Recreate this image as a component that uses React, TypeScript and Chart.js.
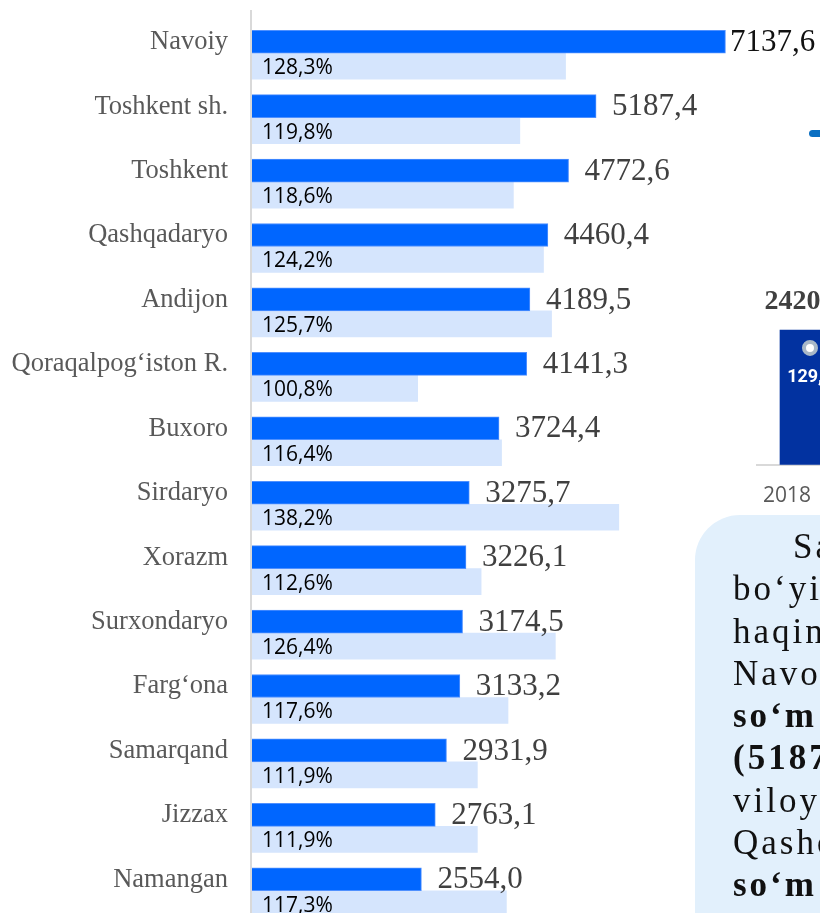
import React, { useEffect, useRef } from 'react';
import { Chart, registerables } from 'chart.js';

Chart.register(...registerables);

// ---- data ----
const regions = [
  'Navoiy',
  'Toshkent sh.',
  'Toshkent',
  'Qashqadaryo',
  'Andijon',
  'Qoraqalpog‘iston R.',
  'Buxoro',
  'Sirdaryo',
  'Xorazm',
  'Surxondaryo',
  'Farg‘ona',
  'Samarqand',
  'Jizzax',
  'Namangan',
];
const volumes = [7137.6, 5187.4, 4772.6, 4460.4, 4189.5, 4141.3, 3724.4, 3275.7, 3226.1, 3174.5, 3133.2, 2931.9, 2763.1, 2554.0];
const growth = [128.3, 119.8, 118.6, 124.2, 125.7, 100.8, 116.4, 138.2, 112.6, 126.4, 117.6, 111.9, 111.9, 117.3];

const sideYears = ['2018'];
const sideVolume = [2420.0];
const sideGrowth = [129.0];

const boxLines = [
  { text: 'Sanoat', bold: false, indent: true },
  { text: 'bo‘yicha', bold: false, indent: false },
  { text: 'haqin', bold: false, indent: false },
  { text: 'Navoiy', bold: false, indent: false },
  { text: 'so‘m', bold: true, indent: false },
  { text: '(5187,4', bold: true, indent: false },
  { text: 'viloyatida', bold: false, indent: false },
  { text: 'Qashqadaryo', bold: false, indent: false },
  { text: 'so‘m', bold: true, indent: false },
];

const fmt = (v: number) => v.toFixed(1).replace('.', ',');

const mainLabels = {
  id: 'mainLabels',
  afterDatasetsDraw(chart: any) {
    const ctx = chart.ctx;
    const xs = chart.scales.x;
    const m0 = chart.getDatasetMeta(0);
    const m1 = chart.getDatasetMeta(1);
    ctx.save();
    ctx.strokeStyle = '#D9D9D9';
    ctx.lineWidth = 2;
    ctx.beginPath();
    ctx.moveTo(xs.left - 1, chart.chartArea.top - 11);
    ctx.lineTo(xs.left - 1, chart.height);
    ctx.stroke();

    ctx.textBaseline = 'middle';
    ctx.textAlign = 'left';
    m1.data.forEach((bar: any, i: number) => {
      ctx.font = '21px "Open Sans"';
      ctx.fillStyle = '#000000';
      ctx.fillText(fmt(growth[i]) + '%', xs.left + 10, bar.y + 2);
    });
    m0.data.forEach((bar: any, i: number) => {
      ctx.font = '31px "Liberation Serif"';
      ctx.fillStyle = i === 0 ? '#111111' : '#404040';
      const x = Math.min(bar.x + 16, xs.right - 119);
      ctx.fillText(fmt(volumes[i]), x, bar.y + 1);
    });
    ctx.restore();
  },
};

const sideLabels = {
  id: 'sideLabels',
  afterDatasetsDraw(chart: any) {
    const ctx = chart.ctx;
    const line = chart.getDatasetMeta(0);
    const bars = chart.getDatasetMeta(1);
    ctx.save();
    ctx.textAlign = 'center';
    ctx.textBaseline = 'middle';
    bars.data.forEach((bar: any, i: number) => {
      ctx.font = 'bold 28px "Liberation Serif"';
      ctx.fillStyle = '#404040';
      ctx.fillText(fmt(sideVolume[i]), bar.x - 7, bar.y - 28);
    });
    line.data.forEach((pt: any, i: number) => {
      ctx.font = 'bold 18px Roboto';
      ctx.fillStyle = '#FFFFFF';
      ctx.fillText(fmt(sideGrowth[i]), pt.x, pt.y + 30);
    });
    ctx.restore();
  },
};

export default function App() {
  const mainRef = useRef<HTMLCanvasElement>(null);
  const sideRef = useRef<HTMLCanvasElement>(null);

  useEffect(() => {
    const main = new Chart(mainRef.current as HTMLCanvasElement, {
      type: 'bar',
      data: {
        labels: regions,
        datasets: [
          {
            label: 'Hajm',
            data: volumes,
            xAxisID: 'x',
            backgroundColor: '#0066FF',
            borderColor: '#4F90FF',
            borderWidth: 1,
            borderSkipped: 'start',
            barThickness: 23,
          },
          {
            label: 'O‘sish',
            data: growth,
            xAxisID: 'x2',
            backgroundColor: '#D5E5FD',
            barThickness: 26,
          },
        ],
      },
      options: {
        indexAxis: 'y',
        animation: false,
        responsive: false,
        layout: { padding: { top: 21, bottom: 17, left: 0, right: 0 } },
        scales: {
          y: {
            grid: { display: false, drawTicks: false },
            border: { display: false },
            ticks: {
              font: { family: '"Liberation Serif"', size: 26.5 },
              color: '#595959',
              padding: 24,
              labelOffset: -11,
            },
            afterFit: (s: any) => {
              s.width = 252;
              s.paddingTop = 0;
              s.paddingBottom = 0;
            },
          },
          x: { type: 'linear', display: false, min: 0, max: 9000 },
          x2: { type: 'linear', axis: 'x', position: 'bottom', display: false, min: 70, max: 181 },
        },
        plugins: { legend: { display: false }, tooltip: { enabled: false } },
      } as any,
      plugins: [mainLabels],
    });

    const side = new Chart(sideRef.current as HTMLCanvasElement, {
      type: 'bar',
      data: {
        labels: sideYears,
        datasets: [
          {
            type: 'line',
            data: sideGrowth,
            yAxisID: 'y2',
            showLine: false,
            pointRadius: 6,
            pointBorderWidth: 4,
            pointBorderColor: '#A9B8C7',
            pointBackgroundColor: '#FFFFFF',
            order: 0,
          } as any,
          {
            type: 'bar',
            data: sideVolume,
            yAxisID: 'y',
            backgroundColor: '#0232A0',
            barThickness: 60,
            order: 1,
          },
        ],
      },
      options: {
        animation: false,
        responsive: false,
        layout: { padding: { top: 20, left: 17, right: 0, bottom: 6 } },
        scales: {
          x: {
            grid: { display: false, drawTicks: false },
            border: { display: true, color: '#D9D9D9', width: 2 },
            ticks: {
              font: { family: '"Open Sans"', size: 21 },
              color: '#595959',
              padding: 19,
              labelOffset: -23,
            },
            afterFit: (s: any) => {
              s.paddingLeft = 0;
              s.paddingRight = 0;
            },
          },
          y: { display: false, min: 0, max: 3140 },
          y2: { display: false, min: 0, max: 193, position: 'right' },
        },
        plugins: { legend: { display: false }, tooltip: { enabled: false } },
      } as any,
      plugins: [sideLabels],
    });

    return () => {
      main.destroy();
      side.destroy();
    };
  }, []);

  return (
    <div
      style={{
        position: 'fixed',
        left: 0,
        top: 0,
        width: 820,
        height: 913,
        overflow: 'hidden',
        background: '#FFFFFF',
      }}
    >
      <canvas
        ref={mainRef}
        width={849}
        height={940}
        style={{ position: 'absolute', left: 0, top: 0, width: 849, height: 940 }}
      />
      <div
        style={{
          position: 'absolute',
          left: 809,
          top: 130,
          width: 22,
          height: 7,
          borderRadius: 4,
          background: '#0A6FC2',
        }}
      />
      <canvas
        ref={sideRef}
        width={133}
        height={264}
        style={{ position: 'absolute', left: 740, top: 270, width: 133, height: 264 }}
      />
      <div
        style={{
          position: 'absolute',
          left: 695,
          top: 515,
          width: 420,
          height: 460,
          background: '#E2F0FC',
          borderRadius: 45,
          paddingTop: 11,
          paddingLeft: 38,
          boxSizing: 'border-box',
          fontFamily: '"Liberation Serif", serif',
          fontSize: 35,
          letterSpacing: 3,
          lineHeight: '42.3px',
          color: '#111111',
          whiteSpace: 'nowrap',
        }}
      >
        {boxLines.map((l, i) => (
          <div key={i} style={{ fontWeight: l.bold ? 'bold' : 'normal', paddingLeft: l.indent ? 60 : 0 }}>
            {l.text}
          </div>
        ))}
      </div>
    </div>
  );
}
